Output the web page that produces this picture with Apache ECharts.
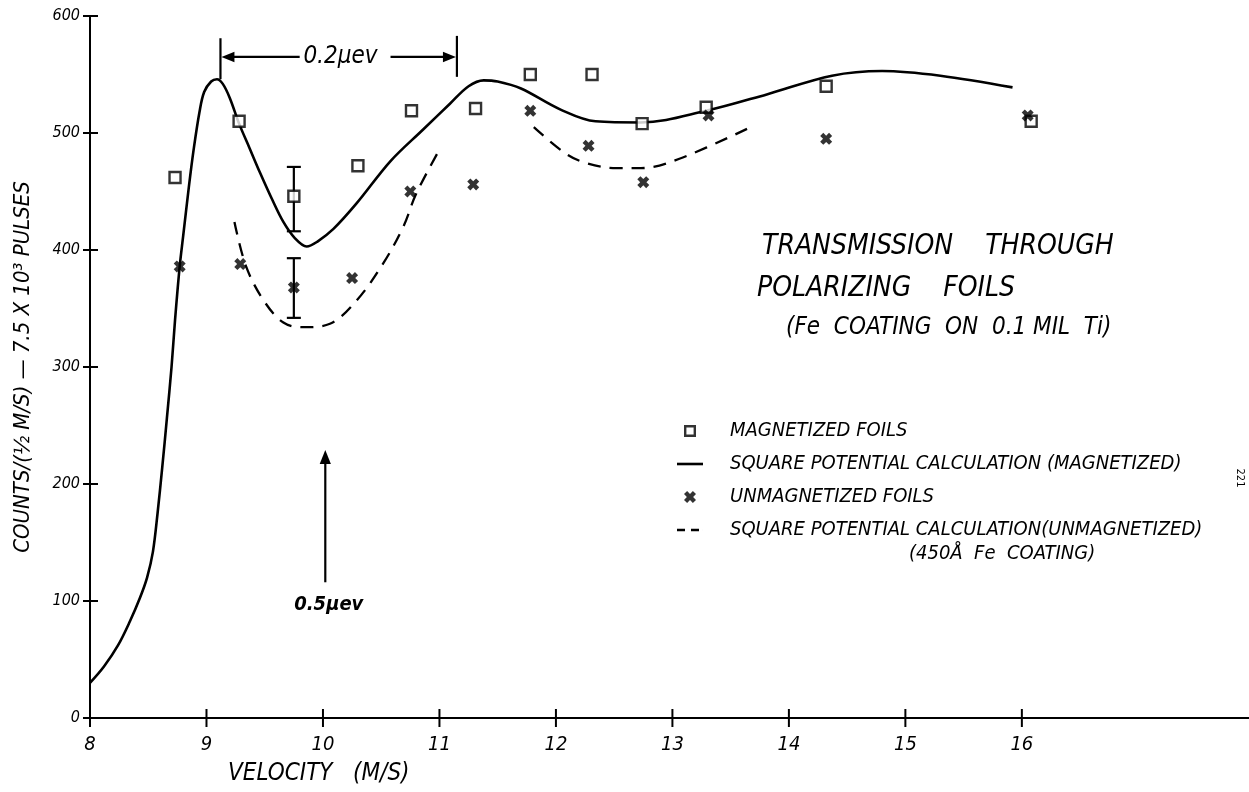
<!DOCTYPE html>
<html>
<head>
<meta charset="utf-8">
<script src="https://cdn.jsdelivr.net/npm/echarts@6/dist/echarts.min.js"></script>
<style>
html,body{margin:0;padding:0;background:#fff;}
#chart{width:1249px;height:792px;}
</style>
</head>
<body>
<div id="chart"></div>
<script>
// ---- data ----
const xTickValues = [8, 9, 10, 11, 12, 13, 14, 15, 16];
const yTickValues = [0, 100, 200, 300, 400, 500, 600];

const magnetizedX = [8.73, 9.28, 9.75, 10.30, 10.76, 11.31, 11.78, 12.31, 12.74, 13.29, 14.32, 16.08];
const magnetizedY = [462, 510, 446, 472, 519, 521, 550, 550, 508, 522, 540, 510];

const unmagnetizedX = [8.77, 9.29, 9.75, 10.25, 10.75, 11.29, 11.78, 12.28, 12.75, 13.31, 14.32, 16.05];
const unmagnetizedY = [386, 388, 368, 376, 450, 456, 519, 489, 458, 515, 495, 515];

const solidX = [8.00, 8.12, 8.24, 8.34, 8.43, 8.49, 8.54, 8.58, 8.62, 8.66, 8.70, 8.73, 8.77, 8.80, 8.85, 8.89, 8.94, 8.98, 9.04, 9.09, 9.14, 9.20, 9.28, 9.37, 9.46, 9.56, 9.66, 9.76, 9.86, 9.95, 10.09, 10.29, 10.58, 10.86, 11.09, 11.25, 11.38, 11.50, 11.70, 12.04, 12.34, 12.73, 13.29, 13.81, 14.37, 14.80, 15.30, 15.92];
const solidY = [30, 44, 62, 82, 103, 120, 142, 175, 214, 256, 300, 340, 386, 412, 455, 486, 518, 535, 544, 546, 542, 530, 508, 487, 466, 444, 424, 410, 403, 407, 418, 440, 476, 503, 525, 540, 545, 544, 538, 520, 510, 509, 519, 533, 549, 553, 549, 539];

const dashedX = [9.24, 9.34, 9.49, 9.66, 9.83, 10.06, 10.29, 10.52, 10.69, 10.80, 10.99, 11.40, 11.81, 12.09, 12.27, 12.52, 12.73, 13.06, 13.65];
const dashedY = [424, 386, 357, 338, 334, 337, 357, 389, 420, 448, 484, null, 505, 482, 474, 470, 470, 478, 504];

const errorX = [9.75, 9.75];
const errorLow = [416, 342];
const errorHigh = [471, 393];

const seriesNames = [
  'MAGNETIZED FOILS',
  'SQUARE POTENTIAL CALCULATION (MAGNETIZED)',
  'UNMAGNETIZED FOILS',
  'SQUARE POTENTIAL CALCULATION(UNMAGNETIZED)'
];
const titleLines = ['TRANSMISSION    THROUGH', 'POLARIZING    FOILS', '(Fe  COATING  ON  0.1 MIL  Ti)'];
const legendExtra = '(450Å  Fe  COATING)';
const xAxisTitle = 'VELOCITY   (M/S)';
const yAxisTitle = 'COUNTS/(½ M/S) — 7.5 X 10³ PULSES';

// annotation anchors in data units
const spanAnno = { x0: 9.12, x1: 11.15, y: 565, top: 581, bottom: 546, label: '0.2μev', labelX: 10.15, gapL: 9.80, gapR: 10.58 };
const arrowAnno = { x: 10.02, from: 116, to: 229, label: '0.5μev', labelY: 97 };

const FONT = '"Liberation Sans Narrow", "DejaVu Sans Condensed", sans-serif';
const xPath = 'path://M0,2.6 L2.6,0 L5,2.4 L7.4,0 L10,2.6 L7.6,5 L10,7.4 L7.4,10 L5,7.6 L2.6,10 L0,7.4 L2.4,5 Z';
const sqIcon = 'path://M0,0 L12,0 L12,12 L0,12 Z M2.4,2.4 L2.4,9.6 L9.6,9.6 L9.6,2.4 Z';
const lineIcon = 'path://M0,0 L26,0 L26,2.6 L0,2.6 Z';
const dashIcon = 'path://M0,0 L8,0 L8,2.4 L0,2.4 Z M14,0 L22,0 L22,2.4 L14,2.4 Z M26,0 L26.01,0 L26.01,2.4 L26,2.4 Z';

const zip = (a, b) => a.map((v, i) => [v, b[i]]);

const chart = echarts.init(document.getElementById('chart'), null, { renderer: 'canvas' });

const option = {
  backgroundColor: '#fff',
  animation: false,
  grid: { left: 90, right: 0, top: 16, bottom: 74, containLabel: false },
  xAxis: {
    type: 'value', min: 8, max: 17.95, interval: 1,
    axisLine: { show: true, onZero: false, lineStyle: { color: '#000', width: 2 } },
    axisTick: { show: false },
    axisLabel: { customValues: xTickValues, color: '#000', fontSize: 20, fontStyle: 'italic', fontFamily: FONT, margin: 17 },
    splitLine: { show: false }
  },
  yAxis: {
    type: 'value', min: 0, max: 600, interval: 100,
    name: yAxisTitle, nameLocation: 'middle', nameGap: 56, nameRotate: 90,
    nameTextStyle: { color: '#000', fontSize: 22, fontStyle: 'italic', fontFamily: FONT },
    axisLine: { show: true, onZero: false, lineStyle: { color: '#000', width: 2 } },
    axisTick: { show: false },
    axisLabel: { color: '#000', fontSize: 16, fontStyle: 'italic', fontFamily: FONT, margin: 10 },
    splitLine: { show: false }
  },
  legend: {
    orient: 'vertical', left: 672, top: 416, itemGap: 13, itemWidth: 26, itemHeight: 12,
    symbolKeepAspect: true,
    data: [
      { name: seriesNames[0], icon: sqIcon, itemStyle: { color: '#000', borderWidth: 0 } },
      { name: seriesNames[1], icon: lineIcon, itemStyle: { color: '#000', borderWidth: 0 } },
      { name: seriesNames[2], icon: xPath, itemStyle: { color: '#000', borderWidth: 0 } },
      { name: seriesNames[3], icon: dashIcon, itemStyle: { color: '#000', borderWidth: 0 } }
    ],
    textStyle: { color: '#000', fontSize: 20, lineHeight: 20, fontStyle: 'italic', fontFamily: FONT, padding: [0, 0, 0, 22] },
    inactiveColor: '#000',
    selectedMode: false
  },
  series: [
    {
      name: seriesNames[0], type: 'scatter', data: zip(magnetizedX, magnetizedY),
      symbol: 'rect', symbolSize: 11, z: 5,
      itemStyle: { color: '#fff', borderColor: '#000', borderWidth: 2.4 }
    },
    {
      name: seriesNames[1], type: 'line', data: zip(solidX, solidY),
      smooth: 0.35, symbol: 'none',
      lineStyle: { color: '#000', width: 2.6 },
      itemStyle: { color: '#000' }
    },
    {
      name: seriesNames[2], type: 'scatter', data: zip(unmagnetizedX, unmagnetizedY),
      symbol: xPath, symbolSize: 12, z: 5,
      itemStyle: { color: '#000' }
    },
    {
      name: seriesNames[3], type: 'line', data: zip(dashedX, dashedY),
      smooth: 0.35, symbol: 'none', connectNulls: false,
      lineStyle: { color: '#000', width: 2.3, type: [13, 9] },
      itemStyle: { color: '#000' }
    },
    {
      name: 'error', type: 'custom',
      data: errorX.map((x, i) => [x, errorLow[i], errorHigh[i]]),
      renderItem: function (params, api) {
        const lo = api.coord([api.value(0), api.value(1)]);
        const hi = api.coord([api.value(0), api.value(2)]);
        const w = 7;
        const s = { stroke: '#000', lineWidth: 2.2 };
        return {
          type: 'group', children: [
            { type: 'line', shape: { x1: lo[0], y1: lo[1], x2: hi[0], y2: hi[1] }, style: s },
            { type: 'line', shape: { x1: lo[0] - w, y1: lo[1], x2: lo[0] + w, y2: lo[1] }, style: s },
            { type: 'line', shape: { x1: hi[0] - w, y1: hi[1], x2: hi[0] + w, y2: hi[1] }, style: s }
          ]
        };
      },
      z: 4
    },
    {
      // crossing tick marks on the x axis, placed by the axis scale
      name: 'xTicks', type: 'custom', clip: false, silent: true,
      data: xTickValues.map(v => [v, 0]),
      renderItem: function (params, api) {
        const p = api.coord([api.value(0), 0]);
        return { type: 'line', shape: { x1: p[0], y1: p[1] - 9, x2: p[0], y2: p[1] + 9 }, style: { stroke: '#000', lineWidth: 2 } };
      }
    },
    {
      // crossing tick marks on the y axis
      name: 'yTicks', type: 'custom', clip: false, silent: true,
      data: yTickValues.map(v => [8, v]),
      renderItem: function (params, api) {
        const p = api.coord([8, api.value(1)]);
        return { type: 'line', shape: { x1: p[0] - 7, y1: p[1], x2: p[0] + 8, y2: p[1] }, style: { stroke: '#000', lineWidth: 2 } };
      }
    }
  ]
};

chart.setOption(option);

// ---- annotations placed through the axes ----
const P = (x, y) => chart.convertToPixel({ xAxisIndex: 0, yAxisIndex: 0 }, [x, y]);
const st = { stroke: '#000', lineWidth: 2.2 };
const g = [];

function arrowHead(tip, dx, dy, size) {
  const px = -dy, py = dx;
  return {
    type: 'polygon',
    shape: { points: [tip, [tip[0] - dx * size + px * size * 0.4, tip[1] - dy * size + py * size * 0.4], [tip[0] - dx * size - px * size * 0.4, tip[1] - dy * size - py * size * 0.4]] },
    style: { fill: '#000' }
  };
}

// 0.2 μev span
const lT = P(spanAnno.x0, spanAnno.top), lB = P(spanAnno.x0, spanAnno.bottom);
const rT = P(spanAnno.x1, spanAnno.top + 2), rB = P(spanAnno.x1, spanAnno.bottom + 2);
g.push({ type: 'line', shape: { x1: lT[0], y1: lT[1], x2: lB[0], y2: lB[1] }, style: st });
g.push({ type: 'line', shape: { x1: rT[0], y1: rT[1], x2: rB[0], y2: rB[1] }, style: st });
const aL0 = P(spanAnno.gapL, spanAnno.y), aL1 = P(spanAnno.x0, spanAnno.y);
const aR0 = P(spanAnno.gapR, spanAnno.y), aR1 = P(spanAnno.x1, spanAnno.y);
g.push({ type: 'line', shape: { x1: aL0[0], y1: aL0[1], x2: aL1[0] + 8, y2: aL1[1] }, style: st });
g.push(arrowHead([aL1[0] + 1, aL1[1]], -1, 0, 13));
g.push({ type: 'line', shape: { x1: aR0[0], y1: aR0[1], x2: aR1[0] - 8, y2: aR1[1] }, style: st });
g.push(arrowHead([aR1[0] - 1, aR1[1]], 1, 0, 13));
const sLab = P(spanAnno.labelX, spanAnno.y);
g.push({ type: 'text', x: sLab[0], y: sLab[1], style: { text: spanAnno.label, fill: '#000', font: 'italic 24px ' + FONT, align: 'center', verticalAlign: 'middle' } });

// 0.5 μev arrow
const u0 = P(arrowAnno.x, arrowAnno.from), u1 = P(arrowAnno.x, arrowAnno.to);
g.push({ type: 'line', shape: { x1: u0[0], y1: u0[1], x2: u1[0], y2: u1[1] + 8 }, style: st });
g.push(arrowHead([u1[0], u1[1]], 0, -1, 14));
const uLab = P(arrowAnno.x + 0.03, arrowAnno.labelY);
g.push({ type: 'text', x: uLab[0], y: uLab[1], style: { text: arrowAnno.label, fill: '#000', font: 'italic bold 20px ' + FONT, align: 'center', verticalAlign: 'middle' } });

// title block
g.push({ type: 'text', left: 762, top: 233, style: { text: titleLines[0], fill: '#000', font: 'italic 28px ' + FONT } });
g.push({ type: 'text', left: 757, top: 275, style: { text: titleLines[1], fill: '#000', font: 'italic 28px ' + FONT } });
g.push({ type: 'text', left: 786, top: 316, style: { text: titleLines[2], fill: '#000', font: 'italic 24px ' + FONT } });

// legend continuation line
g.push({ type: 'text', left: 909, top: 544, style: { text: legendExtra, fill: '#000', font: 'italic 20px ' + FONT } });

// axis title
g.push({ type: 'text', left: 228, top: 762, style: { text: xAxisTitle, fill: '#000', font: 'italic 24px ' + FONT } });

// page mark
g.push({ type: 'text', x: 1240, y: 478, rotation: -Math.PI / 2, style: { text: '221', fill: '#000', font: '11px ' + FONT, align: 'center', verticalAlign: 'middle' } });

chart.setOption({ graphic: g });
</script>
</body>
</html>
